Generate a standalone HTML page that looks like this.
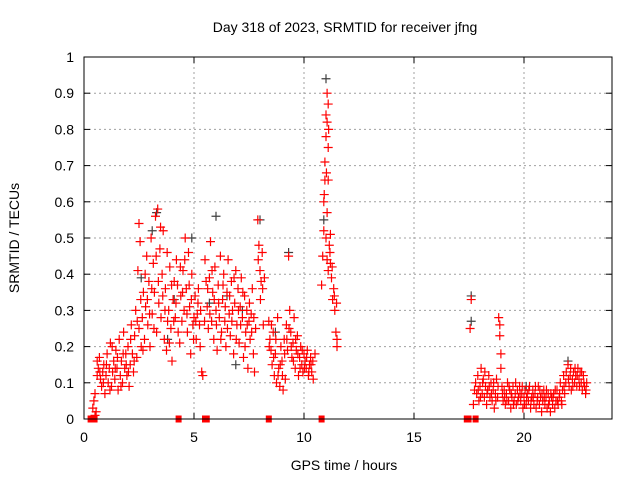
<!DOCTYPE html>
<html><head><meta charset="utf-8"><style>
body{margin:0;background:#fff;font-family:"Liberation Sans",sans-serif}
svg text{font-family:"Liberation Sans",sans-serif;font-size:14px;fill:#000}
</style></head><body>
<svg id="c" width="640" height="480" viewBox="0 0 640 480" xmlns="http://www.w3.org/2000/svg">
<rect width="640" height="480" fill="#fff"/>
<text x="345" y="32" text-anchor="middle">Day 318 of 2023, SRMTID for receiver jfng</text>
<text x="344" y="470" text-anchor="middle">GPS time / hours</text>
<text transform="translate(19,238) rotate(-90)" text-anchor="middle">SRMTID / TECUs</text>
<g id="grid"></g>
<g id="axes"></g>
<g id="marks"></g>
<rect x="84" y="57" width="528" height="362" fill="none" stroke="#000" stroke-width="1"/>
</svg>
<script>
const xTicks=[0,5,10,15,20];
const yTicks=[0,0.1,0.2,0.3,0.4,0.5,0.6,0.7,0.8,0.9,1];
const yTickLabels=["0","0.1","0.2","0.3","0.4","0.5","0.6","0.7","0.8","0.9","1"];
const greyPoints=[[2.6,0.39],[3.1,0.52],[3.3,0.57],[4.1,0.33],[4.9,0.5],[5.7,0.32],[6.0,0.56],[6.5,0.34],[7.2,0.3],[8.0,0.55],[9.3,0.46],[10.9,0.55],[11.0,0.94],[17.6,0.34],[17.6,0.27],[20.1,0.09],[22.0,0.16],[8.7,0.24],[3.8,0.22],[6.9,0.15]];
const zeroPoints=[[0.3,0],[0.36,0],[0.42,0],[0.48,0],[4.3,0],[5.5,0],[5.58,0],[8.4,0],[10.8,0],[17.4,0],[17.48,0],[17.8,0]];
const redPoints=[
[0.5,0.01],[0.4,0.03],[0.45,0.05],[0.5,0.07],[0.55,0.02],[0.6,0.12],[0.6,0.16],[0.65,0.14],[0.7,0.17],[0.75,0.11],[0.8,0.09],[0.85,0.13],[0.9,0.15],[0.95,0.07],[1.0,0.12],[1.05,0.18],[1.1,0.1],[1.15,0.14],[1.2,0.21],[1.25,0.09],[1.3,0.13],[1.35,0.16],[1.4,0.11],[1.45,0.19],[1.5,0.14],[1.55,0.08],[1.6,0.22],[1.65,0.12],[1.7,0.16],[1.75,0.1],[1.8,0.24],[1.85,0.14],[1.9,0.18],[1.95,0.12],[2.0,0.2],[2.05,0.09],[2.1,0.15],[2.15,0.26],[2.2,0.18],[2.25,0.13],[2.3,0.23],[2.35,0.3],[2.4,0.17],[2.45,0.41],[2.5,0.25],[2.5,0.54],[2.55,0.49],[2.6,0.2],[2.65,0.28],[2.7,0.35],[2.75,0.22],[2.8,0.31],[2.85,0.45],[2.9,0.26],[2.95,0.38],[3.0,0.2],[3.05,0.5],[3.1,0.29],[3.15,0.43],[3.2,0.35],[3.25,0.56],[3.3,0.24],[3.35,0.58],[3.4,0.32],[3.45,0.47],[3.5,0.28],[3.55,0.4],[3.6,0.52],[3.65,0.22],[3.7,0.36],[3.75,0.19],[3.8,0.27],[3.85,0.3],[3.9,0.42],[3.95,0.25],[4.0,0.16],[4.05,0.33],[4.1,0.38],[4.15,0.28],[4.2,0.44],[4.25,0.37],[4.35,0.21],[4.4,0.34],[4.45,0.27],[4.5,0.41],[4.55,0.3],[4.6,0.5],[4.65,0.36],[4.7,0.24],[4.75,0.46],[4.8,0.31],[4.85,0.18],[4.9,0.4],[4.95,0.26],[5.0,0.28],[5.05,0.34],[5.1,0.22],[5.15,0.29],[5.2,0.36],[5.25,0.26],[5.3,0.3],[5.35,0.13],[5.4,0.12],[5.5,0.44],[5.55,0.38],[5.6,0.31],[5.65,0.25],[5.7,0.39],[5.75,0.49],[5.8,0.27],[5.85,0.35],[5.9,0.22],[5.95,0.42],[6.0,0.3],[6.05,0.19],[6.1,0.37],[6.15,0.28],[6.2,0.45],[6.25,0.24],[6.3,0.33],[6.35,0.4],[6.4,0.27],[6.45,0.2],[6.5,0.35],[6.55,0.44],[6.6,0.29],[6.65,0.23],[6.7,0.38],[6.75,0.3],[6.8,0.18],[6.85,0.32],[6.9,0.41],[6.95,0.26],[7.0,0.36],[7.05,0.21],[7.1,0.31],[7.15,0.39],[7.2,0.28],[7.25,0.17],[7.3,0.34],[7.35,0.24],[7.4,0.3],[7.45,0.14],[7.5,0.27],[7.55,0.22],[7.6,0.29],[7.65,0.36],[7.7,0.18],[7.75,0.13],[7.8,0.25],[7.9,0.55],[7.95,0.48],[8.0,0.41],[8.05,0.38],[8.1,0.46],[8.15,0.26],[8.2,0.39],[8.4,0.27],[8.45,0.22],[8.5,0.19],[8.55,0.15],[8.6,0.24],[8.65,0.12],[8.7,0.18],[8.75,0.1],[8.8,0.28],[8.85,0.14],[8.9,0.09],[8.95,0.2],[9.0,0.16],[9.05,0.08],[9.1,0.22],[9.15,0.11],[9.2,0.26],[9.25,0.19],[9.3,0.45],[9.35,0.3],[9.4,0.24],[9.45,0.17],[9.5,0.21],[9.55,0.28],[9.6,0.14],[9.65,0.19],[9.7,0.23],[9.75,0.12],[9.8,0.17],[9.85,0.2],[9.9,0.15],[9.95,0.13],[10.0,0.18],[10.05,0.16],[10.1,0.14],[10.15,0.19],[10.2,0.12],[10.25,0.15],[10.3,0.17],[10.35,0.13],[10.4,0.16],[10.5,0.18],[10.8,0.37],[10.85,0.45],[10.9,0.52],[10.9,0.6],[10.95,0.66],[10.95,0.71],[11.0,0.78],[11.0,0.84],[11.05,0.9],[11.05,0.82],[11.1,0.87],[11.1,0.75],[11.1,0.66],[11.05,0.57],[11.0,0.5],[11.05,0.44],[11.1,0.41],[11.15,0.48],[11.2,0.51],[11.2,0.43],[11.25,0.39],[11.3,0.33],[11.35,0.36],[11.4,0.3],[11.45,0.24],[11.5,0.22],[11.5,0.2],
[17.55,0.25],[17.6,0.33],[17.7,0.04],[17.75,0.08],[17.8,0.1],[17.85,0.07],[17.9,0.12],[17.95,0.05],[18.0,0.09],[18.05,0.14],[18.1,0.07],[18.15,0.11],[18.2,0.06],[18.25,0.09],[18.3,0.04],[18.35,0.08],[18.4,0.12],[18.45,0.06],[18.5,0.1],[18.55,0.05],[18.6,0.08],[18.65,0.03],[18.7,0.07],[18.75,0.11],[18.8,0.06],[18.85,0.28],[18.9,0.26],[18.9,0.23],[18.95,0.18],[18.95,0.14],[19.0,0.09],[19.05,0.05],[19.1,0.08],[19.15,0.04],[19.2,0.07],[19.25,0.1],[19.3,0.05],[19.35,0.08],[19.4,0.03],[19.45,0.06],[19.5,0.09],[19.55,0.05],[19.6,0.07],[19.65,0.04],[19.7,0.08],[19.75,0.06],[19.8,0.09],[19.85,0.05],[19.9,0.07],[19.95,0.03],[20.0,0.06],[20.05,0.08],[20.1,0.04],[20.15,0.07],[20.2,0.05],[20.25,0.09],[20.3,0.03],[20.35,0.06],[20.4,0.08],[20.45,0.04],[20.5,0.07],[20.55,0.03],[20.6,0.05],[20.65,0.09],[20.7,0.04],[20.75,0.06],[20.8,0.02],[20.85,0.05],[20.9,0.08],[20.95,0.04],[21.0,0.06],[21.05,0.03],[21.1,0.07],[21.15,0.05],[21.2,0.02],[21.25,0.06],[21.3,0.04],[21.35,0.07],[21.4,0.03],[21.45,0.05],[21.5,0.08],[21.55,0.04],[21.6,0.06],[21.65,0.1],[21.7,0.05],[21.75,0.08],[21.8,0.12],[21.85,0.07],[21.9,0.1],[22.0,0.15],[22.05,0.09],[22.1,0.12],[22.15,0.08],[22.2,0.11],[22.25,0.13],[22.3,0.1],[22.35,0.12],[22.4,0.09],[22.45,0.14],[22.5,0.11],[22.55,0.13],[22.6,0.1],[22.65,0.08],[22.7,0.12],[22.75,0.09],[22.8,0.07],[22.85,0.1]
];
const extraPoints=[
[0.72,0.13],[0.88,0.1],[1.02,0.15],[1.18,0.08],[1.28,0.2],[1.42,0.14],[1.52,0.17],[1.68,0.09],[1.78,0.18],[1.92,0.15],[2.02,0.13],[2.12,0.22],[2.28,0.16],[2.42,0.27],[2.58,0.33],[2.68,0.19],[2.78,0.4],[2.88,0.33],[2.98,0.29],[3.08,0.36],[3.18,0.25],[3.28,0.45],[3.38,0.38],[3.48,0.53],[3.58,0.34],[3.68,0.3],[3.78,0.46],[3.88,0.21],[3.98,0.37],[4.08,0.27],[4.18,0.32],[4.28,0.24],[4.38,0.42],[4.48,0.35],[4.58,0.44],[4.68,0.29],[4.78,0.37],[4.88,0.33],[4.98,0.22],[5.08,0.27],[5.18,0.32],[5.28,0.2],[5.48,0.27],[5.62,0.36],[5.72,0.29],[5.82,0.41],[5.92,0.33],[6.02,0.26],[6.12,0.32],[6.22,0.22],[6.32,0.37],[6.42,0.31],[6.52,0.25],[6.62,0.34],[6.72,0.27],[6.82,0.39],[6.92,0.22],[7.02,0.3],[7.12,0.26],[7.22,0.35],[7.32,0.2],[7.42,0.26],[7.52,0.32],[7.62,0.24],[7.72,0.28],[7.92,0.44],[8.02,0.33],[8.12,0.36],[8.42,0.2],[8.52,0.26],[8.62,0.17],[8.72,0.22],[8.82,0.12],[8.92,0.15],[9.02,0.12],[9.12,0.18],[9.22,0.22],[9.32,0.25],[9.42,0.2],[9.52,0.16],[9.62,0.22],[9.72,0.18],[9.82,0.14],[9.92,0.19],[10.02,0.14],[10.12,0.17],[10.22,0.13],[10.32,0.15],[10.42,0.11],[10.92,0.62],[11.02,0.68],[11.12,0.8],[11.18,0.46],[11.28,0.42],[11.38,0.34],[11.48,0.32],
[17.92,0.08],[18.02,0.06],[18.12,0.1],[18.22,0.13],[18.32,0.07],[18.42,0.09],[18.52,0.07],[18.62,0.1],[18.72,0.05],[18.82,0.09],[19.02,0.07],[19.12,0.06],[19.22,0.05],[19.32,0.09],[19.42,0.07],[19.52,0.04],[19.62,0.1],[19.72,0.05],[19.82,0.07],[19.92,0.09],[20.02,0.04],[20.12,0.06],[20.22,0.08],[20.32,0.05],[20.42,0.06],[20.52,0.09],[20.62,0.06],[20.72,0.08],[20.82,0.07],[20.92,0.06],[21.02,0.08],[21.12,0.04],[21.22,0.07],[21.32,0.06],[21.42,0.08],[21.52,0.05],[21.62,0.07],[21.72,0.04],[21.82,0.09],[21.92,0.13],[22.02,0.11],[22.12,0.14],[22.22,0.09],[22.32,0.14],[22.42,0.12],[22.52,0.09],[22.62,0.13],[22.72,0.1],[22.82,0.08]
];
const NS="http://www.w3.org/2000/svg";
const X0=84,X1=612,Y0=419,Y1=57,XMAX=24,YMAX=1;
function xs(v){return X0+(X1-X0)*v/XMAX;}
function ys(v){return Y0-(Y0-Y1)*v/YMAX;}
const grid=document.getElementById('grid'),axes=document.getElementById('axes'),marks=document.getElementById('marks');
function mk(tag,attrs,parent){const e=document.createElementNS(NS,tag);for(const k in attrs)e.setAttribute(k,attrs[k]);parent.appendChild(e);return e;}
yTicks.forEach((t,i)=>{
  const y=ys(t);
  if(i>0&&i<yTicks.length-1){const g=mk('line',{x1:X0,x2:X1,y1:y,y2:y,stroke:'#a0a0a0','stroke-dasharray':'2,3','stroke-width':1},grid);
  
  }
  const a=mk('line',{x1:X0,x2:X0+6,y1:y,y2:y,stroke:'#000'},axes);
  
  
  const b=mk('line',{x1:X1-6,x2:X1,y1:y,y2:y,stroke:'#000'},axes);
  
  
  const tx=mk('text',{x:X0-10,y:y+5,'text-anchor':'end'},axes);tx.textContent=yTickLabels[i];
  
  
});
xTicks.forEach(t=>{
  const x=xs(t);
  if(t>0){const g=mk('line',{x1:x,x2:x,y1:Y1,y2:Y0,stroke:'#a0a0a0','stroke-dasharray':'2,3','stroke-width':1},grid);
  
  }
  const a=mk('line',{x1:x,x2:x,y1:Y0,y2:Y0-6,stroke:'#000'},axes);
  
  
  const b=mk('line',{x1:x,x2:x,y1:Y1,y2:Y1+6,stroke:'#000'},axes);
  
  
  const tx=mk('text',{x:x,y:Y0+23,'text-anchor':'middle'},axes);tx.textContent=String(t);
  
  
});
function plus(p,color,name){
  const x=xs(p[0]),y=ys(p[1]);
  const e=mk('path',{d:`M${x-4.5},${y}H${x+4.5}M${x},${y-4.5}V${y+4.5}`,stroke:color,'stroke-width':1.2,fill:'none'},marks);
  
  
}
function zero(p){
  const x=xs(p[0]),y=ys(p[1]);
  const e=mk('rect',{x:x-3,y:y-3.5,width:6,height:7,fill:'#ff0000'},marks);
  
  
}
greyPoints.forEach(p=>plus(p,'#404040','grey-point'));
redPoints.forEach(p=>plus(p,'#ff0000','red-point'));
extraPoints.forEach(p=>plus(p,'#ff0000','red-point'));
zeroPoints.forEach(p=>zero(p));
</script>
</body></html>
